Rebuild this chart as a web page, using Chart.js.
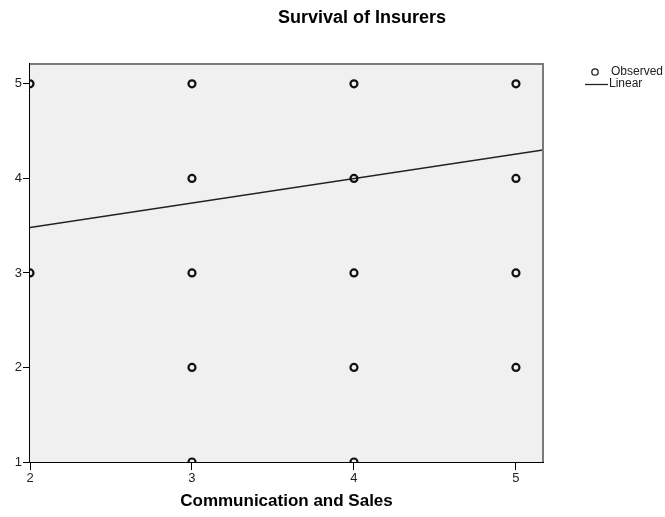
<!DOCTYPE html>
<html>
<head>
<meta charset="utf-8">
<script src="https://cdn.jsdelivr.net/npm/chart.js@4/dist/chart.umd.min.js"></script>
<style>
  html, body { margin: 0; padding: 0; background: #fff; }
  #wrap { width: 665px; height: 517px; position: relative; }
</style>
</head>
<body>
<div id="wrap"><canvas id="c"></canvas></div>
<script>
// Observed responses: Communication and Sales (x) vs Survival of Insurers (y)
const obsX = [2, 2, 3, 3, 3, 3, 3, 4, 4, 4, 4, 4, 5, 5, 5, 5];
const obsY = [5, 3, 5, 4, 3, 2, 1, 5, 4, 3, 2, 1, 5, 4, 3, 2];

// Linear fit, read at the two edges of the plot
const fitX = [2, 5.167];
const fitY = [3.48, 4.30];

const xTicks = [2, 3, 4, 5];
const yTicks = [1, 2, 3, 4, 5];

const chartTitle = 'Survival of Insurers';
const xTitle = 'Communication and Sales';
const legendObserved = 'Observed';
const legendLinear = 'Linear';

const FONT = '"Liberation Sans", Arial, sans-serif';

const frame = {
  id: 'frame',
  beforeDatasetsDraw(chart) {
    const { ctx, chartArea: a } = chart;
    ctx.save();
    ctx.fillStyle = '#f0f0f0';
    ctx.fillRect(a.left, a.top, a.right - a.left, a.bottom - a.top);
    ctx.restore();
  },
  afterDraw(chart) {
    const { ctx, chartArea: a } = chart;
    ctx.save();
    // top and right frame edges
    ctx.strokeStyle = '#7a7a7a';
    ctx.lineWidth = 2;
    ctx.beginPath();
    ctx.moveTo(a.left, a.top);
    ctx.lineTo(a.right, a.top);
    ctx.lineTo(a.right, a.bottom);
    ctx.stroke();

    // title
    ctx.fillStyle = '#000';
    ctx.font = 'bold 18px ' + FONT;
    ctx.textAlign = 'center';
    ctx.textBaseline = 'middle';
    ctx.fillText(chartTitle, 362, 18);

    // legend
    ctx.font = '12px ' + FONT;
    ctx.textAlign = 'left';
    ctx.fillStyle = '#222';
    ctx.lineWidth = 1.3;
    ctx.strokeStyle = '#222';
    ctx.beginPath();
    ctx.arc(595, 72, 3.2, 0, Math.PI * 2);
    ctx.stroke();
    ctx.fillText(legendObserved, 611, 72);
    ctx.beginPath();
    ctx.moveTo(585, 84.5);
    ctx.lineTo(608, 84.5);
    ctx.stroke();
    ctx.fillText(legendLinear, 609, 84);
    ctx.restore();
  }
};

new Chart(document.getElementById('c'), {
  type: 'scatter',
  data: {
    datasets: [
      {
        label: legendObserved,
        data: obsX.map((x, i) => ({ x, y: obsY[i] })),
        pointStyle: 'circle',
        pointRadius: 3.5,
        pointBorderWidth: 2.2,
        pointBackgroundColor: 'rgba(0,0,0,0)',
        pointBorderColor: '#111',
        clip: { left: 0, top: 0, right: 0, bottom: 0 }
      },
      {
        type: 'line',
        label: legendLinear,
        data: fitX.map((x, i) => ({ x, y: fitY[i] })),
        borderColor: '#222',
        borderWidth: 1.4,
        pointRadius: 0,
        fill: false,
        clip: 0
      }
    ]
  },
  plugins: [frame],
  options: {
    responsive: true,
    maintainAspectRatio: false,
    animation: false,
    events: [],
    layout: { padding: { top: 64, right: 122, bottom: 0, left: 0 } },
    plugins: {
      legend: { display: false },
      title: { display: false },
      tooltip: { enabled: false }
    },
    scales: {
      x: {
        type: 'linear',
        min: 2,
        max: 5.167,
        afterBuildTicks(scale) { scale.ticks = xTicks.map(v => ({ value: v })); },
        afterFit(scale) { scale.height = 55; },
        border: { display: true, color: '#000', width: 2 },
        grid: { display: true, drawOnChartArea: false, drawTicks: true, tickLength: 8, color: '#000', lineWidth: 1 },
        ticks: { color: '#222', font: { family: FONT, size: 13 }, padding: 1, maxRotation: 0 },
        title: {
          display: true,
          text: xTitle,
          color: '#000',
          font: { family: FONT, size: 17, weight: 'bold' },
          padding: { top: 0, bottom: 5 }
        }
      },
      y: {
        type: 'linear',
        min: 1,
        max: 5.21,
        afterBuildTicks(scale) { scale.ticks = yTicks.map(v => ({ value: v })); },
        afterFit(scale) { scale.width = 30; },
        border: { display: true, color: '#000', width: 2 },
        grid: { display: true, drawOnChartArea: false, drawTicks: true, tickLength: 7, color: '#000', lineWidth: 1 },
        ticks: { color: '#222', font: { family: FONT, size: 13 }, padding: 1 }
      }
    }
  }
});
</script>
</body>
</html>
